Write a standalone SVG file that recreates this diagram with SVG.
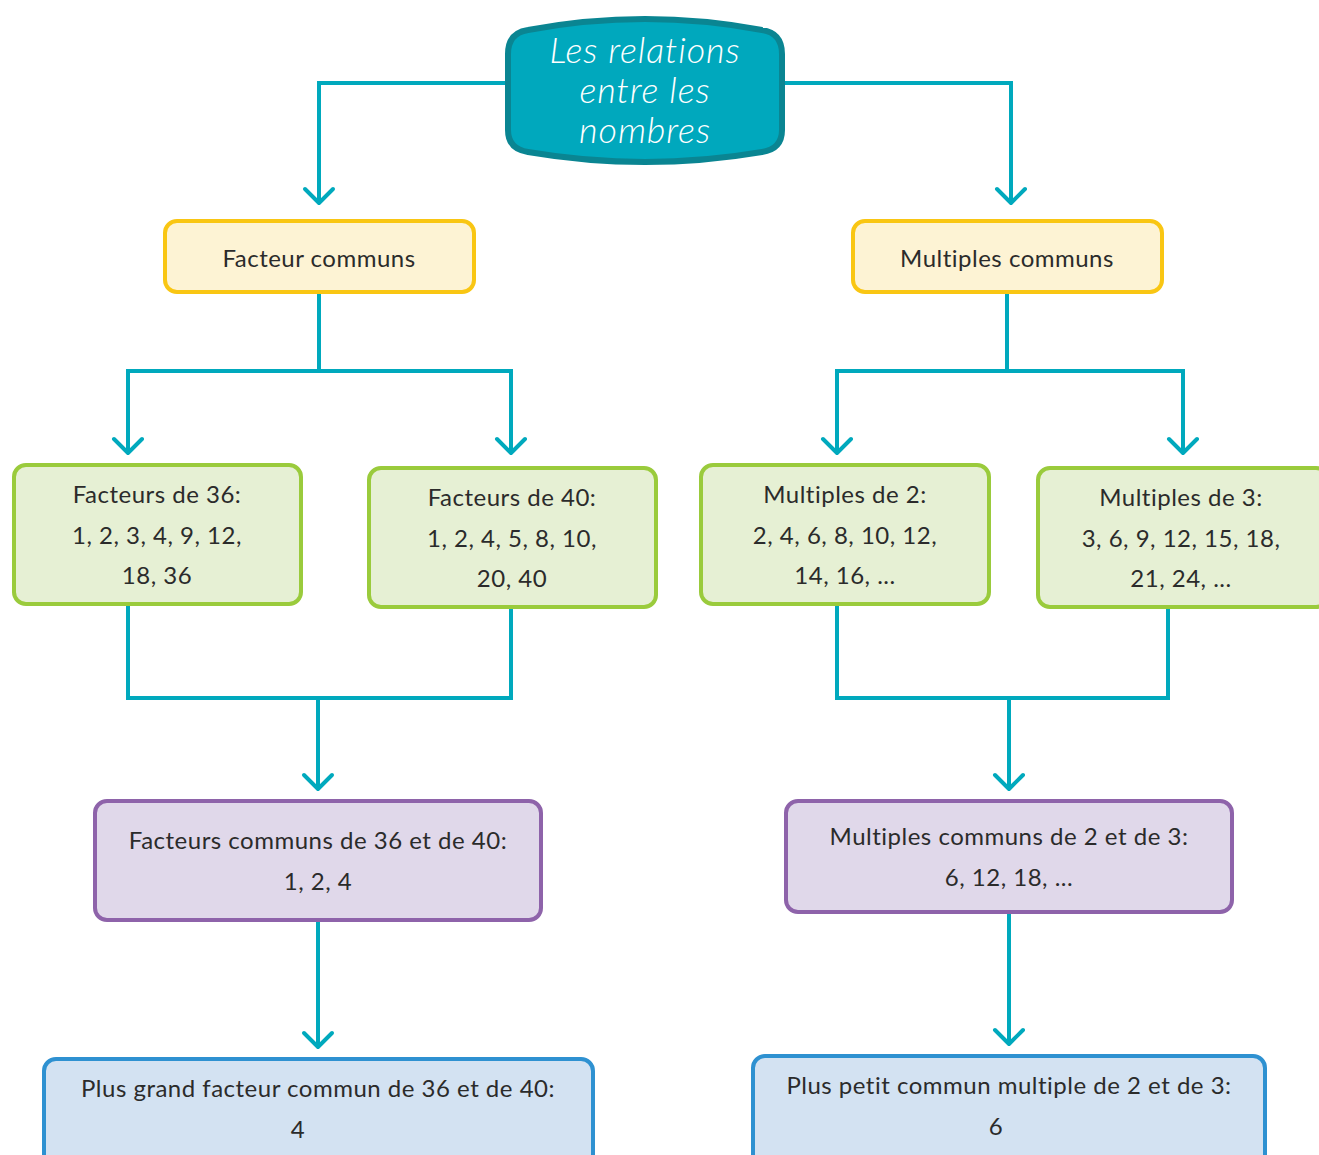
<svg xmlns="http://www.w3.org/2000/svg" width="1319" height="1155" viewBox="0 0 1319 1155">
<style>
.c{fill:none;stroke:#00a9bd;stroke-width:4;stroke-linejoin:miter}
.a{fill:none;stroke:#00a9bd;stroke-width:4;stroke-linecap:round;stroke-linejoin:round}
.y{fill:#fdf3d4;stroke:#f9c613;stroke-width:4}
.g{fill:#e6f0d4;stroke:#9acb3c;stroke-width:4}
.p{fill:#e0d8ea;stroke:#8e63aa;stroke-width:4}
.b{fill:#d3e2f2;stroke:#2e91d1;stroke-width:4}
.t{font-family:Lato,"Liberation Sans",sans-serif;font-size:24px;letter-spacing:0.5px;fill:#2b2b2b;text-anchor:middle}
.h{font-family:Lato,"Liberation Sans",sans-serif;font-size:36px;font-weight:300;letter-spacing:0.9px;font-style:italic;fill:#ffffff;text-anchor:middle}
</style>
<rect width="1319" height="1155" fill="#ffffff"/>
<g id="connectors">
<path class="c" d="M508,83 H319 V201"/>
<path class="a" d="M305,189 L319,203 L333,189"/>
<path class="c" d="M782,83 H1011 V201"/>
<path class="a" d="M997,189 L1011,203 L1025,189"/>
<path class="c" d="M319,293 V371 M128,371 H511 M128,369 V451 M511,369 V451"/>
<path class="a" d="M114,439 L128,453 L142,439 M497,439 L511,453 L525,439"/>
<path class="c" d="M1007,293 V371 M837,371 H1183 M837,369 V451 M1183,369 V451"/>
<path class="a" d="M823,439 L837,453 L851,439 M1169,439 L1183,453 L1197,439"/>
<path class="c" d="M128,605 V698 H511 V607 M318,698 V787"/>
<path class="a" d="M304,775 L318,789 L332,775"/>
<path class="c" d="M837,605 V698 H1168 V607 M1009,698 V787"/>
<path class="a" d="M995,775 L1009,789 L1023,775"/>
<path class="c" d="M318,921 V1045"/>
<path class="a" d="M304,1033 L318,1047 L332,1033"/>
<path class="c" d="M1009,913 V1042"/>
<path class="a" d="M995,1030 L1009,1044 L1023,1030"/>
</g>
<g id="root">
<path d="M508,54 Q508,33 528,30 Q645,8 762,30 Q782,33 782,54 L782,130 Q782,149 762,152 Q645,172 528,152 Q508,149 508,130 Z" fill="#00a8bd" stroke="#0a8592" stroke-width="6"/>
<text class="h" x="645" y="63">Les relations</text>
<text class="h" x="645" y="103">entre les</text>
<text class="h" x="645" y="143">nombres</text>
</g>
<g id="facteur-communs">
<rect class="y" x="165" y="221" width="309" height="71" rx="12"/>
<text class="t" x="319" y="267">Facteur communs</text>
</g>
<g id="multiples-communs">
<rect class="y" x="853" y="221" width="309" height="71" rx="12"/>
<text class="t" x="1007" y="267">Multiples communs</text>
</g>
<g id="facteurs-36">
<rect class="g" x="14" y="465" width="287" height="139" rx="12"/>
<text class="t" x="157" y="503">Facteurs de 36:</text>
<text class="t" x="157" y="544">1, 2, 3, 4, 9, 12,</text>
<text class="t" x="157" y="584">18, 36</text>
</g>
<g id="facteurs-40">
<rect class="g" x="369" y="468" width="287" height="139" rx="12"/>
<text class="t" x="512" y="506">Facteurs de 40:</text>
<text class="t" x="512" y="547">1, 2, 4, 5, 8, 10,</text>
<text class="t" x="512" y="587">20, 40</text>
</g>
<g id="multiples-2">
<rect class="g" x="701" y="465" width="288" height="139" rx="12"/>
<text class="t" x="845" y="503">Multiples de 2:</text>
<text class="t" x="845" y="544">2, 4, 6, 8, 10, 12,</text>
<text class="t" x="845" y="584">14, 16, ...</text>
</g>
<g id="multiples-3">
<rect class="g" x="1038" y="468" width="290" height="139" rx="12"/>
<text class="t" x="1181" y="506">Multiples de 3:</text>
<text class="t" x="1181" y="547">3, 6, 9, 12, 15, 18,</text>
<text class="t" x="1181" y="587">21, 24, ...</text>
</g>
<g id="facteurs-communs-36-40">
<rect class="p" x="95" y="801" width="446" height="119" rx="12"/>
<text class="t" x="318" y="849">Facteurs communs de 36 et de 40:</text>
<text class="t" x="318" y="890">1, 2, 4</text>
</g>
<g id="multiples-communs-2-3">
<rect class="p" x="786" y="801" width="446" height="111" rx="12"/>
<text class="t" x="1009" y="845">Multiples communs de 2 et de 3:</text>
<text class="t" x="1009" y="886">6, 12, 18, ...</text>
</g>
<g id="pgcd">
<rect class="b" x="44" y="1059" width="549" height="110" rx="12"/>
<text class="t" x="318" y="1097">Plus grand facteur commun de 36 et de 40:</text>
<text class="t" x="298" y="1138">4</text>
</g>
<g id="ppcm">
<rect class="b" x="753" y="1056" width="512" height="110" rx="12"/>
<text class="t" x="1009" y="1094">Plus petit commun multiple de 2 et de 3:</text>
<text class="t" x="996" y="1135">6</text>
</g>
</svg>
